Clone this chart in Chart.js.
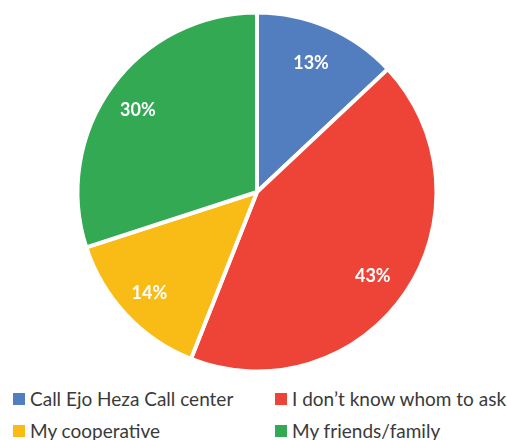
<!DOCTYPE html>
<html>
<head>
<meta charset="utf-8">
<script src="https://cdn.jsdelivr.net/npm/chart.js@4/dist/chart.umd.min.js"></script>
<style>
  html, body { margin: 0; padding: 0; background: #fff; }
  #wrap { position: relative; width: 507px; height: 440px; overflow: hidden; }
  #c { position: absolute; left: 0; top: 0; }
  .leg { position: absolute; font-family: Lato, "Open Sans", sans-serif; font-size: 19px; color: #3a3a3a; white-space: nowrap; line-height: 20px; }
  .leg span.box { position: absolute; left: 0; top: 4px; width: 12px; height: 12px; }
  .leg span.txt { position: absolute; left: 17px; top: 0; }
</style>
</head>
<body>
<div id="wrap">
  <canvas id="c" width="507" height="384"></canvas>
  <div id="legend"></div>
</div>
<script>
const categories = ["Call Ejo Heza Call center", "I don\u2019t know whom to ask", "My cooperative", "My friends/family"];
const values = [13, 43, 14, 30];
const colors = ["#527EC0", "#EE4337", "#F9BC16", "#33A954"];

const labelPlugin = {
  id: 'sliceLabels',
  afterDatasetsDraw(chart) {
    const ctx = chart.ctx;
    const meta = chart.getDatasetMeta(0);
    ctx.save();
    ctx.fillStyle = '#ffffff';
    ctx.font = 'bold 18px Lato, "Open Sans", sans-serif';
    ctx.textAlign = 'center';
    ctx.textBaseline = 'middle';
    meta.data.forEach((arc, i) => {
      const p = arc.getProps(['x', 'y', 'startAngle', 'endAngle', 'outerRadius'], true);
      const mid = (p.startAngle + p.endAngle) / 2;
      const r = p.outerRadius * 0.8;
      ctx.fillText(values[i] + '%', p.x + Math.cos(mid) * r - 3, p.y + Math.sin(mid) * r + 3);
    });
    ctx.restore();
  }
};

new Chart(document.getElementById('c'), {
  type: 'pie',
  data: {
    labels: categories,
    datasets: [{
      data: values,
      backgroundColor: colors,
      borderColor: '#ffffff',
      borderWidth: 4
    }]
  },
  options: {
    responsive: false,
    animation: false,
    layout: { padding: { left: 75.5, right: 68.5, top: 10.5, bottom: 10.5 } },
    plugins: {
      legend: { display: false },
      tooltip: { enabled: false }
    }
  },
  plugins: [labelPlugin]
});

// HTML legend built from the same arrays
const legendPos = [[13, 389], [275, 389], [13, 421], [275, 421]];
const legend = document.getElementById('legend');
categories.forEach((name, i) => {
  const d = document.createElement('div');
  d.className = 'leg';
  d.style.left = legendPos[i][0] + 'px';
  d.style.top = legendPos[i][1] + 'px';
  const b = document.createElement('span');
  b.className = 'box';
  b.style.background = colors[i];
  const t = document.createElement('span');
  t.className = 'txt';
  t.textContent = name;
  d.appendChild(b); d.appendChild(t);
  legend.appendChild(d);
});
</script>
</body>
</html>
